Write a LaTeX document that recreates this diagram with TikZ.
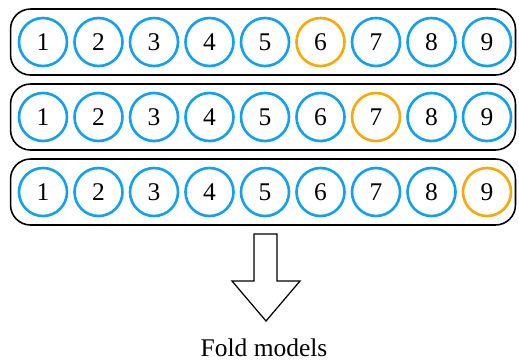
\documentclass[tikz,border=0pt]{standalone}
\usepackage{fontspec}
\setmainfont{Liberation Serif}
\usetikzlibrary{positioning}

\definecolor{ballblue}{RGB}{20,160,240}
\definecolor{ballorange}{RGB}{245,170,10}

\begin{document}
\begin{tikzpicture}[x=0.02cm,y=-0.02cm,
    ball/.style={circle,line width=1.5pt,minimum size=0.96cm,inner sep=0pt,
                 font=\fontsize{14.5}{16}\selectfont},
    fold/.style={draw,rounded corners=0.4cm,line width=0.9pt,
                 minimum width=10.1cm,minimum height=1.32cm,inner sep=0pt}]
\useasboundingbox (0,0) rectangle (519,360);

% one row per fold, the orange ball is the held-out one
\foreach \r/\y/\k in {1/42/6,2/117/7,3/192/9}{
    \node[fold] (row\r) at (263,\y) {};
    \foreach \i in {1,...,9}{
        \ifnum\i=\k \def\col{ballorange}\else\def\col{ballblue}\fi
        \node[ball,draw=\col] (b\r-\i) at ({43+(\i-1)*55.5},\y) {\i};
    }
}

% big hollow arrow down to the label
\draw[line width=0.7pt] (254,234) -- (277,234) -- (277,281) -- (300,281)
    -- (266,321) -- (232,281) -- (254,281) -- cycle;
\node[font=\fontsize{14.5}{16}\selectfont,anchor=base,inner sep=0pt]
    (foldlabel) at (264,356) {Fold models};
\end{tikzpicture}
\end{document}
